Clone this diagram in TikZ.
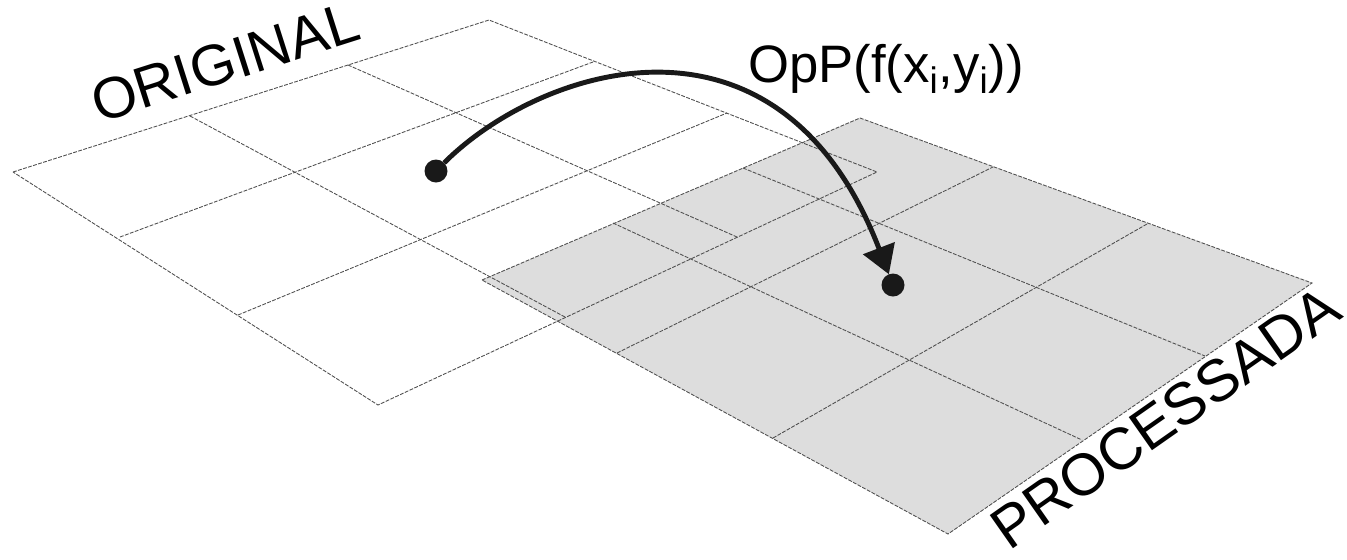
\documentclass[tikz,border=0pt]{standalone}
\usepackage{fontspec}
\setmainfont{Liberation Sans}
\usetikzlibrary{arrows.meta}
\definecolor{planegray}{RGB}{221,221,221}
\definecolor{gridgray}{RGB}{80,80,80}

\begin{document}
\begin{tikzpicture}[x=0.02cm, y=-0.02cm,
    gridln/.style={gridgray, line width=0.5pt, dash pattern=on 2.2pt off 0.8pt},
    pixdot/.style={circle, fill=black!90, inner sep=0pt, outer sep=0pt, minimum size=0.46cm},
    caption/.style={inner sep=0pt, anchor=base}]
    \useasboundingbox (0,0) rectangle (1347,559);

    % Processed image plane
    \coordinate (pL) at (482,280);
    \coordinate (pT) at (860,118);
    \coordinate (pR) at (1312,283);
    \coordinate (pB) at (948,534);
    \fill[planegray] (pL) -- (pT) -- (pR) -- (pB) -- cycle;

    % Original image grid
    \coordinate (oL) at (13,172);
    \coordinate (oT) at (489,20);
    \coordinate (oR) at (877,172);
    \coordinate (oB) at (378,405);
    \draw[gridln] (oL) -- (oT) -- (oR) -- (oB) -- cycle;
    \draw[gridln] (190,116) -- (565,317);
    \draw[gridln] (348,65) -- (737,237);
    \draw[gridln] (120,237) -- (593,62);
    \draw[gridln] (238,315) -- (727,113);

    % Processed image grid
    \draw[gridln] (pL) -- (pT) -- (pR) -- (pB) -- cycle;
    \draw[gridln] (613,223) -- (1082,440);
    \draw[gridln] (743,168) -- (1205,356);
    \draw[gridln] (617,353) -- (993,167);
    \draw[gridln] (773,438) -- (1147,224);

    % Pixels and the point operation
    \node[pixdot] (src) at (436,171) {};
    \node[pixdot] (dst) at (893,285) {};
    \draw[line width=2.8pt, black!90, -{Triangle[length=0.56cm, width=0.66cm]}]
        (src) .. controls (540,67) and (779,-12) .. (dst);

    % Labels
    \node[caption, rotate=17.7, font=\fontsize{33}{34}\selectfont] (orig) at (231,81) {ORIGINAL};
    \node[caption, font=\fontsize{30}{32}\selectfont] (oper) at (886,82) {OpP(f(x\textsubscript{i},y\textsubscript{i}))};
    \node[caption, rotate=35, font=\fontsize{33.5}{34}\selectfont] (proc) at (1177,434) {PROCESSADA};
\end{tikzpicture}
\end{document}
